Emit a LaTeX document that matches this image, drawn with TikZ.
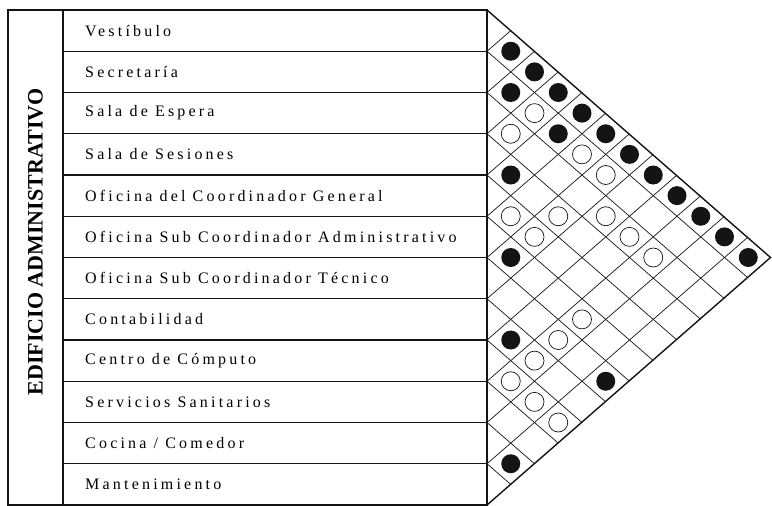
\documentclass[tikz,border=0pt]{standalone}
\usepackage{fontspec}
\setmainfont{Liberation Serif}
\usepackage{xcolor}
\definecolor{inkblack}{RGB}{20, 20, 20}

\begin{document}
\begin{tikzpicture}[x=1pt, y=-1pt,
    frame/.style={line width=1.4pt, color=inkblack},
    rowline/.style={line width=1.1pt, color=inkblack},
    gridline/.style={line width=0.7pt, color=inkblack},
    strong/.style={fill=inkblack},
    weak/.style={draw=inkblack, line width=0.7pt, fill=white},
    roomlabel/.style={anchor=west, inner sep=0pt, font=\fontsize{16}{19}\selectfont\addfontfeature{LetterSpace=20}}]

    \useasboundingbox (0,0) rectangle (772,506);

    % Diamond grid of the relationship matrix
    \foreach \k in {1,...,11} {
        \draw[gridline] (487,{10+41.25*\k}) -- ++({23.75*(12-\k)},{20.625*(12-\k)});
        \draw[gridline] (487,{10+41.25*\k}) -- ++({23.75*\k},{-20.625*\k});
    }

    % Outer triangle of the matrix
    \draw[frame, line join=miter] (487,10) -- (770.5,257.5) -- (487,505);

    % Table frame and rows
    \draw[frame] (8,10) rectangle (487,505);
    \draw[frame] (63,10) -- (63,505);
    \foreach \k in {1,...,11}
        \draw[rowline] (63,{10+41.25*\k}) -- (487,{10+41.25*\k});

    % Room names
    \foreach \name [count=\n from 0] in {Vestíbulo, Secretaría, Sala de Espera, Sala de Sesiones,
        Oficina del Coordinador General, Oficina Sub Coordinador Administrativo,
        Oficina Sub Coordinador Técnico, Contabilidad, Centro de Cómputo,
        Servicios Sanitarios, {Cocina / Comedor}, Mantenimiento} {
        \node[roomlabel] (room\n) at (85,{30.625+41.25*\n}) {\name};
    }

    % Vertical title
    \node[rotate=90, font=\fontsize{22}{24}\selectfont\bfseries] (title) at (35.5,242) {EDIFICIO ADMINISTRATIVO};

    % Strong relationships (filled)
    \foreach \i/\j in {0/1, 0/2, 0/3, 0/4, 0/5, 0/6, 0/7, 0/8, 0/9, 0/10, 0/11,
                       1/2, 1/4, 3/4, 5/6, 7/8, 6/11, 10/11} {
        \fill[strong] ({487+23.75*(\j-\i)},{30.625+20.625*(\i+\j)}) circle (9.5);
    }

    % Weak relationships (open)
    \foreach \i/\j in {1/3, 2/3, 1/5, 1/6, 4/5, 3/6, 2/7, 4/6, 2/8, 2/9,
                       5/9, 6/9, 7/9, 8/9, 8/10, 8/11} {
        \draw[weak] ({487+23.75*(\j-\i)},{30.625+20.625*(\i+\j)}) circle (9.5);
    }

\end{tikzpicture}
\end{document}
